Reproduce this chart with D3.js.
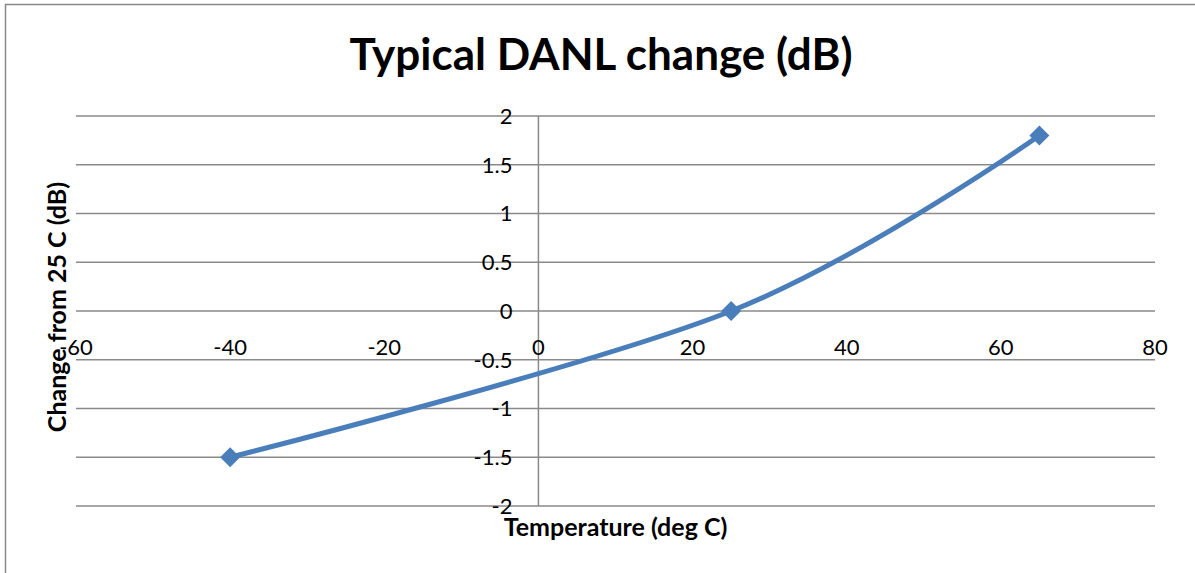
<!DOCTYPE html>
<html>
<head>
<meta charset="utf-8">
<script src="https://cdn.jsdelivr.net/npm/d3@7"></script>
<style>
    body { margin: 0; background: #fff; }
    text { font-family: Lato, "Open Sans", sans-serif; fill: #000; }
</style>
</head>
<body>
<div id="container"></div>
<script>
// data
var temps = [-40, 25, 65];
var changes = [-1.5, 0, 1.8];
var xTicks = [-60, -40, -20, 0, 20, 40, 60, 80];
var yTicks = [-2, -1.5, -1, -0.5, 0, 0.5, 1, 1.5, 2];

var width = 1195, height = 573;
var plotLeft = 76, plotRight = 1155, plotTop = 116, plotBottom = 506;

var svg = d3.select("#container")
    .append("svg")
    .attr("width", width)
    .attr("height", height);

// chart border (only left / top visible in crop)
svg.append("path")
    .attr("d", "M5.5," + height + "V4.5H" + width)
    .attr("fill", "none")
    .attr("stroke", "#888")
    .attr("stroke-width", 1.5);

var x = d3.scaleLinear().domain([-60, 80]).range([plotLeft, plotRight]);
var y = d3.scaleLinear().domain([-2, 2]).range([plotBottom, plotTop]);

// horizontal gridlines
svg.append("g")
    .selectAll("line")
    .data(yTicks)
    .enter()
    .append("line")
    .attr("x1", plotLeft)
    .attr("x2", plotRight)
    .attr("y1", function (d) { return y(d); })
    .attr("y2", function (d) { return y(d); })
    .attr("stroke", "#8a8a8a")
    .attr("stroke-width", 1.5);

// vertical axis at x = 0
svg.append("line")
    .attr("x1", x(0))
    .attr("x2", x(0))
    .attr("y1", y(2))
    .attr("y2", y(-2))
    .attr("stroke", "#8a8a8a")
    .attr("stroke-width", 1.5);

// y tick labels
svg.append("g")
    .selectAll("text")
    .data(yTicks)
    .enter()
    .append("text")
    .attr("x", x(0) - 26)
    .attr("y", function (d) { return y(d); })
    .attr("dy", "0.36em")
    .attr("text-anchor", "end")
    .style("font-size", "22px")
    .text(function (d) { return d; });

// x tick labels (under the y = 0 line)
svg.append("g")
    .selectAll("text")
    .data(xTicks)
    .enter()
    .append("text")
    .attr("x", function (d) { return x(d); })
    .attr("y", y(0) + 36)
    .attr("dy", "0.36em")
    .attr("text-anchor", "middle")
    .style("font-size", "22px")
    .text(function (d) { return d; });

// series
var pts = temps.map(function (t, i) { return [t, changes[i]]; });

var line = d3.line()
    .x(function (d) { return x(d[0]); })
    .y(function (d) { return y(d[1]); })
    .curve(d3.curveCardinal.tension(0));

svg.append("path")
    .datum(pts)
    .attr("d", line)
    .attr("fill", "none")
    .attr("stroke", "#4a7ebb")
    .attr("stroke-width", 5);

svg.append("g")
    .selectAll("path")
    .data(pts)
    .enter()
    .append("path")
    .attr("d", d3.symbol().type(d3.symbolSquare).size(200))
    .attr("transform", function (d) {
        return "translate(" + x(d[0]) + "," + y(d[1]) + ") rotate(45)";
    })
    .attr("fill", "#4a7ebb");

// titles
svg.append("text")
    .attr("x", 601)
    .attr("y", 70)
    .attr("text-anchor", "middle")
    .style("font-size", "44px")
    .style("font-weight", "bold")
    .text("Typical DANL change (dB)");

svg.append("text")
    .attr("x", (plotLeft + plotRight) / 2)
    .attr("y", 536)
    .attr("text-anchor", "middle")
    .style("font-size", "25px")
    .style("font-weight", "bold")
    .text("Temperature (deg C)");

svg.append("text")
    .attr("transform", "translate(66,307) rotate(-90)")
    .attr("text-anchor", "middle")
    .style("font-size", "25px")
    .style("font-weight", "bold")
    .text("Change from 25 C (dB)");
</script>
</body>
</html>
